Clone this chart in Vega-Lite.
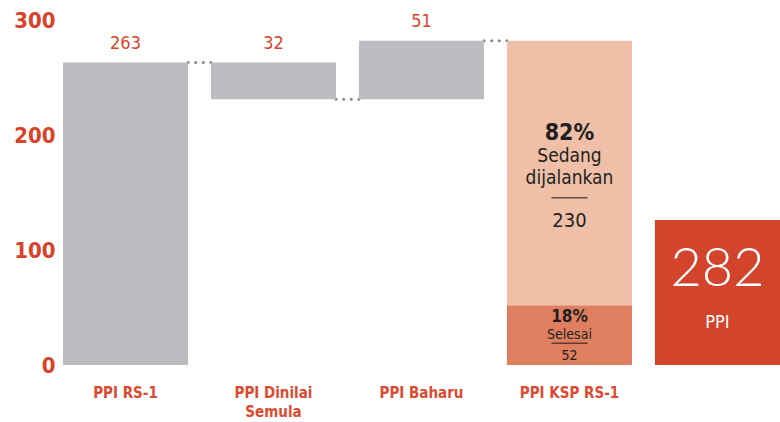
{
  "$schema": "https://vega.github.io/schema/vega-lite/v6.json",
  "width": 717,
  "height": 345,
  "autosize": {"type": "none"},
  "padding": {"left": 63, "top": 20, "right": 0, "bottom": 57},
  "background": "#ffffff",
  "config": {
    "view": {"stroke": null},
    "font": "DejaVu Sans Condensed, sans-serif",
    "axisY": {"domain": false, "ticks": false, "grid": false, "labelFont": "DejaVu Sans Condensed, sans-serif", "labelFontSize": 22, "labelFontWeight": "bold", "labelColor": "#d8432a", "labelPadding": 8, "labelBaseline": "middle"},
    "axisX": {"domain": false, "ticks": false, "grid": false, "labelAngle": 0, "labelFont": "DejaVu Sans Condensed, sans-serif", "labelFontSize": 15, "labelFontWeight": "bold", "labelColor": "#dc4a31", "labelPadding": 20, "labelLineHeight": 19, "labelBaseline": "top", "labelOverlap": false}
  },
  "datasets": {
    "waterfall": [
      {"cat": "PPI RS-1", "start": 0, "end": 263, "label": "263", "next": "PPI Dinilai Semula", "level": 263},
      {"cat": "PPI Dinilai Semula", "start": 231, "end": 263, "label": "32", "next": "PPI Baharu", "level": 231},
      {"cat": "PPI Baharu", "start": 231, "end": 282, "label": "51", "next": "PPI KSP RS-1", "level": 282}
    ],
    "ksp": [
      {"cat": "PPI KSP RS-1", "part": "Selesai", "pct": "18%", "value": 52, "start": 0, "end": 52},
      {"cat": "PPI KSP RS-1", "part": "Sedang dijalankan", "pct": "82%", "value": 230, "start": 52, "end": 282}
    ],
    "total": [{"cat": "PPI", "value": 282, "unit": "PPI"}]
  },
  "layer": [
    {
      "data": {"name": "waterfall"},
      "mark": {"type": "rule", "color": "#8a8a8a", "strokeWidth": 3, "strokeDash": [0.1, 7.5], "strokeCap": "round"},
      "encoding": {
        "x": {"field": "cat", "type": "nominal", "title": null, "bandPosition": 1,
              "scale": {"type": "band", "domain": ["PPI RS-1", "PPI Dinilai Semula", "PPI Baharu", "PPI KSP RS-1", "PPI"], "paddingInner": 0.155, "paddingOuter": 0},
              "axis": {"labelExpr": "datum.value == 'PPI Dinilai Semula' ? ['PPI Dinilai', 'Semula'] : datum.value == 'PPI' ? '' : datum.value"}},
        "x2": {"field": "next", "bandPosition": 0},
        "y": {"field": "level", "type": "quantitative", "title": null, "scale": {"domain": [0, 300], "nice": false, "zero": true}, "axis": {"values": [0, 100, 200, 300]}}
      }
    },
    {
      "data": {"name": "waterfall"},
      "mark": {"type": "bar", "color": "#bcbdc1"},
      "encoding": {
        "x": {"field": "cat", "type": "nominal", "title": null},
        "y": {"field": "start", "type": "quantitative", "title": null},
        "y2": {"field": "end"}
      }
    },
    {
      "data": {"name": "ksp"},
      "mark": {"type": "bar"},
      "encoding": {
        "x": {"field": "cat", "type": "nominal", "title": null},
        "y": {"field": "start", "type": "quantitative", "title": null},
        "y2": {"field": "end"},
        "color": {"field": "part", "type": "nominal", "legend": null, "scale": {"domain": ["Selesai", "Sedang dijalankan"], "range": ["#e07f60", "#efbfa8"]}}
      }
    },
    {
      "data": {"name": "total"},
      "mark": {"type": "bar", "color": "#d2442c"},
      "encoding": {
        "x": {"field": "cat", "type": "nominal", "title": null},
        "y": {"datum": 0, "type": "quantitative"},
        "y2": {"datum": 126}
      }
    },
    {
      "data": {"name": "waterfall"},
      "mark": {"type": "text", "color": "#d8432a", "fontSize": 18, "baseline": "alphabetic", "dy": -14, "font": "DejaVu Sans Condensed, sans-serif"},
      "encoding": {
        "x": {"field": "cat", "type": "nominal", "title": null},
        "y": {"field": "end", "type": "quantitative", "title": null},
        "text": {"field": "label"}
      }
    },
    {
      "data": {"name": "ksp"},
      "transform": [{"filter": "datum.part == 'Sedang dijalankan'"}],
      "layer": [
        {"mark": {"type": "text", "color": "#231f20", "fontSize": 23, "fontWeight": "bold", "baseline": "middle", "dy": 92, "font": "DejaVu Sans Condensed, sans-serif"},
         "encoding": {"x": {"field": "cat", "type": "nominal", "title": null}, "y": {"field": "end", "type": "quantitative", "title": null}, "text": {"field": "pct"}}},
        {"mark": {"type": "text", "color": "#231f20", "fontSize": 19, "baseline": "alphabetic", "dy": 121, "lineBreak": " ", "lineHeight": 22, "font": "DejaVu Sans Condensed, sans-serif"},
         "encoding": {"x": {"field": "cat", "type": "nominal", "title": null}, "y": {"field": "end", "type": "quantitative", "title": null}, "text": {"field": "part"}}},
        {"mark": {"type": "tick", "color": "#231f20", "size": 36, "thickness": 1.5, "yOffset": 157},
         "encoding": {"x": {"field": "cat", "type": "nominal", "title": null}, "y": {"field": "end", "type": "quantitative", "title": null}}},
        {"mark": {"type": "text", "color": "#231f20", "fontSize": 20, "baseline": "alphabetic", "dy": 186, "font": "DejaVu Sans Condensed, sans-serif"},
         "encoding": {"x": {"field": "cat", "type": "nominal", "title": null}, "y": {"field": "end", "type": "quantitative", "title": null}, "text": {"field": "value"}}}
      ]
    },
    {
      "data": {"name": "ksp"},
      "transform": [{"filter": "datum.part == 'Selesai'"}],
      "layer": [
        {"mark": {"type": "text", "color": "#231f20", "fontSize": 17, "fontWeight": "bold", "baseline": "middle", "dy": 12, "font": "DejaVu Sans Condensed, sans-serif"},
         "encoding": {"x": {"field": "cat", "type": "nominal", "title": null}, "y": {"field": "end", "type": "quantitative", "title": null}, "text": {"field": "pct"}}},
        {"mark": {"type": "text", "color": "#231f20", "fontSize": 14, "baseline": "alphabetic", "dy": 34, "font": "DejaVu Sans Condensed, sans-serif"},
         "encoding": {"x": {"field": "cat", "type": "nominal", "title": null}, "y": {"field": "end", "type": "quantitative", "title": null}, "text": {"field": "part"}}},
        {"mark": {"type": "tick", "color": "#231f20", "size": 36, "thickness": 1.5, "yOffset": 38},
         "encoding": {"x": {"field": "cat", "type": "nominal", "title": null}, "y": {"field": "end", "type": "quantitative", "title": null}}},
        {"mark": {"type": "text", "color": "#231f20", "fontSize": 14, "baseline": "alphabetic", "dy": 55, "font": "DejaVu Sans Condensed, sans-serif"},
         "encoding": {"x": {"field": "cat", "type": "nominal", "title": null}, "y": {"field": "end", "type": "quantitative", "title": null}, "text": {"field": "value"}}}
      ]
    },
    {
      "data": {"name": "total"},
      "layer": [
        {"mark": {"type": "text", "color": "#ffffff", "fontSize": 54, "fontWeight": 300, "font": "Lato, Roboto, sans-serif", "baseline": "middle", "dy": -95},
         "encoding": {"x": {"field": "cat", "type": "nominal", "title": null}, "y": {"datum": 0, "type": "quantitative"}, "text": {"field": "value"}}},
        {"mark": {"type": "text", "color": "#ffffff", "fontSize": 18, "font": "DejaVu Sans Condensed, sans-serif", "baseline": "middle", "dy": -42},
         "encoding": {"x": {"field": "cat", "type": "nominal", "title": null}, "y": {"datum": 0, "type": "quantitative"}, "text": {"field": "unit"}}}
      ]
    }
  ]
}
